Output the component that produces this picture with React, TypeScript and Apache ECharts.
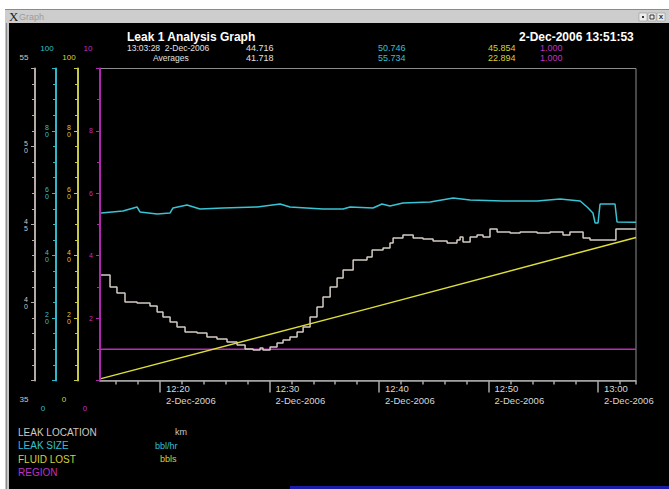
import React, { useEffect, useRef } from "react";
import * as echarts from "echarts";

// ---------- data ----------
const axisStart = "12:14:31";
const axisEnd = "13:03:28";

const leakLocationTimes = [
  "12:14:37", "12:15:26", "12:16:04", "12:16:48", "12:17:54", "12:19:05", "12:19:44", "12:20:16",
  "12:20:55", "12:21:33", "12:22:17", "12:23:23", "12:24:17", "12:25:12", "12:26:07", "12:27:02",
  "12:27:46", "12:28:30", "12:29:08", "12:29:24", "12:30:03", "12:30:41", "12:31:14", "12:31:52",
  "12:32:31", "12:33:04", "12:33:42", "12:34:20", "12:34:53", "12:35:32", "12:36:10", "12:36:43",
  "12:37:38", "12:38:54", "12:39:22", "12:40:22", "12:41:00", "12:41:17", "12:42:11", "12:43:07",
  "12:44:01", "12:44:56", "12:46:13", "12:47:07", "12:47:24", "12:47:40", "12:48:19", "12:48:57",
  "12:49:30", "12:50:08", "12:50:47", "12:51:58", "12:52:53", "12:54:26", "12:55:37", "12:56:48",
  "12:57:26", "12:58:22", "12:58:38", "12:59:16", "13:01:33", "13:01:38", "13:03:28",
];
const leakLocationValues = [
  41.76, 40.99, 40.61, 40.03, 39.97, 39.78, 39.39, 39.07,
  38.75, 38.43, 38.11, 38.04, 37.79, 37.66, 37.47, 37.28,
  37.02, 36.96, 37.08, 36.96, 37.15, 37.4, 37.6, 37.79,
  38.11, 38.43, 39.07, 39.71, 40.35, 40.99, 41.57, 42.08,
  42.72, 42.92, 43.37, 43.49, 43.81, 44.13, 44.32, 44.13,
  44.07, 43.94, 43.81, 44.01, 44.2, 43.88, 44.2, 44.33,
  44.2, 44.71, 44.52, 44.46, 44.52, 44.46, 44.52, 44.33,
  44.52, 44.52, 44.13, 44.01, 44.01, 44.716, 44.716,
];

const leakSizeTimes = [
  "12:14:37", "12:16:37", "12:17:54", "12:18:10", "12:19:44", "12:20:55", "12:21:11", "12:22:28",
  "12:23:39", "12:25:45", "12:28:52", "12:30:58", "12:31:52", "12:34:53", "12:36:43", "12:37:21",
  "12:39:27", "12:40:16", "12:41:00", "12:42:11", "12:44:40", "12:46:46", "12:48:19", "12:51:19",
  "12:54:26", "12:56:32", "12:58:22", "12:59:00", "12:59:32", "12:59:44", "13:00:00", "13:00:11",
  "13:01:33", "13:01:44", "13:03:28",
];
const leakSizeValues = [
  53.69, 54.33, 55.61, 54.01, 53.37, 53.69, 55.29, 56.25,
  54.97, 55.29, 55.61, 56.57, 55.61, 54.97, 54.97, 55.61,
  55.29, 56.57, 55.93, 56.89, 57.21, 58.49, 57.85, 57.53,
  57.53, 58.17, 57.53, 55.61, 53.69, 50.48, 50.48, 56.57,
  56.57, 50.8, 50.746,
];

const fluidLostTimes = ["12:14:37", "12:39:11", "13:03:28"];
const fluidLostValues = [0.6, 23.2, 45.854];

const regionTimes = ["12:14:31", "13:03:28"];
const regionValues = [1.0, 1.0];

const majorTickTimes = ["12:20:00", "12:30:00", "12:40:00", "12:50:00", "13:00:00"];
const minorTickTimes = [
  "12:16:00", "12:18:00", "12:22:00", "12:24:00", "12:26:00", "12:28:00", "12:32:00", "12:34:00",
  "12:36:00", "12:38:00", "12:42:00", "12:44:00", "12:46:00", "12:48:00", "12:52:00", "12:54:00",
  "12:56:00", "12:58:00", "13:02:00", "13:03:28",
];

const seriesNames = ["LEAK LOCATION", "LEAK SIZE", "FLUID LOST", "REGION"];
const seriesUnits = ["km", "bbl/hr", "bbls", ""];
const currentValues = ["44.716", "50.746", "45.854", "1.000"];
const averageValues = ["41.718", "55.734", "22.894", "1.000"];
const axisTopLabels = ["55", "100", "100", "10"];
const axisBottomLabels = ["35", "0", "0", "0"];

// ---------- styles ----------
const FONT = '"Liberation Sans", Arial, sans-serif';
const lineColors = ["#d4ccc4", "#38c4d4", "#dede3a", "#b430b4"];
const axisColors = ["#b4aca4", "#30b8c8", "#c8c848", "#b028b0"];
const textColors = ["#d0c8c0", "#34c0d0", "#d8d034", "#c030c0"];

// seconds since 12:00:00 on 2-Dec-2006
const toSec = (s: string) => {
  const [h, m, sec] = s.split(":").map(Number);
  return (h - 12) * 3600 + m * 60 + sec;
};
const pad2 = (n: number) => (n < 10 ? "0" + n : "" + n);
const fmtTime = (v: number) => {
  const total = Math.round(v);
  const h = 12 + Math.floor(total / 3600);
  const m = Math.floor((total % 3600) / 60);
  return pad2(h) + ":" + pad2(m);
};

function makeY(i: number, min: number, max: number, interval: number, offset: number, minorSplit: number, stacked: boolean) {
  const color = axisColors[i];
  return {
    type: "value",
    position: "left",
    offset,
    min,
    max,
    interval,
    axisLine: { show: true, lineStyle: { color, width: 2 } },
    axisTick: { show: true, length: 4, lineStyle: { color, width: 1 } },
    minorTick: { show: true, splitNumber: minorSplit, length: 3, lineStyle: { color, width: 1 } },
    splitLine: { show: false },
    minorSplitLine: { show: false },
    axisLabel: {
      show: true,
      showMinLabel: false,
      showMaxLabel: false,
      color: textColors[i],
      fontSize: 7,
      lineHeight: 7,
      margin: 7,
      fontFamily: FONT,
      formatter: (v: number) => (stacked ? String(v).split("").join("\n") : String(v)),
    },
  };
}

export default function App() {
  const ref = useRef<HTMLDivElement>(null);
  useEffect(() => {
    if (!ref.current) return;
    const chart = echarts.init(ref.current, undefined, { renderer: "svg" });

    const txt = (text: string, x: number, y: number, fill: string, font: string, align = "left") => ({
      type: "text",
      x,
      y,
      silent: true,
      style: { text, fill, font, textAlign: align, textVerticalAlign: "middle" },
    });

    const headerCols = [246, 378, 488, 540];
    const graphics: any[] = [
      { type: "rect", shape: { x: 0, y: 0, width: 669, height: 9 }, style: { fill: "#ffffff" } },
      { type: "rect", shape: { x: 0, y: 0, width: 5, height: 489 }, style: { fill: "#ffffff" } },
      { type: "rect", shape: { x: 5, y: 9, width: 4, height: 480 }, style: { fill: "#c4c4c4" } },
      { type: "rect", shape: { x: 6, y: 9, width: 1, height: 480 }, style: { fill: "#8c8c8c" } },
      { type: "rect", shape: { x: 5, y: 9, width: 664, height: 14 }, style: { fill: "#cdcdcd" } },
      { type: "rect", shape: { x: 5, y: 9, width: 664, height: 1 }, style: { fill: "#8a8a8a" } },
      txt("X", 9, 16.5, "#202020", "13px serif"),
      txt("Graph", 19, 17, "#9c9c9c", "9px " + FONT),
      { type: "rect", shape: { x: 639, y: 13, width: 8, height: 8 }, style: { fill: "#ececec", stroke: "#8a8a8a", lineWidth: 0.5 } },
      { type: "rect", shape: { x: 648, y: 13, width: 8, height: 8 }, style: { fill: "#ececec", stroke: "#8a8a8a", lineWidth: 0.5 } },
      { type: "rect", shape: { x: 657, y: 13, width: 8, height: 8 }, style: { fill: "#ececec", stroke: "#8a8a8a", lineWidth: 0.5 } },
      { type: "rect", shape: { x: 642, y: 16, width: 2, height: 2 }, style: { fill: "#333" } },
      { type: "rect", shape: { x: 650, y: 15, width: 4, height: 4 }, style: { fill: "none", stroke: "#333", lineWidth: 1 } },
      txt("x", 661, 16.5, "#333", "bold 8px " + FONT, "center"),
      { type: "rect", shape: { x: 290, y: 486, width: 379, height: 3 }, style: { fill: "#1c1ca8" } },
      txt("Leak 1 Analysis Graph", 127, 37, "#ffffff", "bold 12px " + FONT),
      txt("2-Dec-2006 13:51:53", 519, 37, "#ffffff", "bold 12px " + FONT),
      txt("13:03:28  2-Dec-2006", 127, 47.5, "#e0e0e0", "8.5px " + FONT),
      txt("Averages", 153, 57.5, "#e0e0e0", "8.5px " + FONT),
    ];
    currentValues.forEach((v, i) => {
      graphics.push(txt(v, headerCols[i], 47.5, i === 0 ? "#e0e0e0" : textColors[i], "9px " + FONT));
    });
    averageValues.forEach((v, i) => {
      graphics.push(txt(v, headerCols[i], 57.5, i === 0 ? "#e0e0e0" : textColors[i], "9px " + FONT));
    });
    const endX = [24, 47, 69, 88];
    const topY = [57, 48.5, 57, 48.5];
    const botX = [24, 43, 64, 85];
    const botY = [399, 408, 399, 408];
    axisTopLabels.forEach((t, i) => graphics.push(txt(t, endX[i], topY[i], textColors[i], "8px " + FONT, "center")));
    axisBottomLabels.forEach((t, i) => graphics.push(txt(t, botX[i], botY[i], textColors[i], "8px " + FONT, "center")));
    const legY = [432, 445.5, 459, 472.5];
    const unitX = [175, 155, 160, 0];
    seriesNames.forEach((n, i) => {
      graphics.push(txt(n, 18, legY[i], textColors[i], "10px " + FONT));
      if (seriesUnits[i]) graphics.push(txt(seriesUnits[i], unitX[i], legY[i], textColors[i], "9px " + FONT));
    });

    const mk = (times: string[], vals: number[]) => times.map((t, i) => [toSec(t), vals[i]]);
    const lineSeries = (name: string, i: number, data: any[], step: any) => ({
      name,
      type: "line",
      xAxisIndex: 0,
      yAxisIndex: i,
      data,
      step,
      showSymbol: false,
      symbol: "none",
      lineStyle: { color: lineColors[i], width: 1.5 },
      z: i === 3 ? 2 : 3,
    });

    const majorTs = majorTickTimes.map(toSec);
    const minorTs = minorTickTimes.map(toSec);

    chart.setOption({
      animation: false,
      backgroundColor: "#000000",
      grid: {
        left: 100,
        right: 33,
        top: 68.5,
        bottom: 108.5,
        show: true,
        borderColor: "#8c8c8c",
        borderWidth: 1,
        backgroundColor: "transparent",
        containLabel: false,
      },
      xAxis: [
        {
          type: "value",
          position: "bottom",
          min: toSec(axisStart),
          max: toSec(axisEnd),
          axisLine: { show: true, lineStyle: { color: "#a8a8a8", width: 1.5 } },
          axisTick: { show: true, length: 12, customValues: majorTs, lineStyle: { color: "#a8a8a8", width: 1.5 } },
          minorTick: { show: false },
          splitLine: { show: false },
          axisLabel: {
            show: true,
            customValues: majorTs,
            color: "#d8d8d8",
            fontSize: 9.5,
            lineHeight: 12,
            margin: 2,
            align: "left",
            padding: [0, 0, 0, 6],
            fontFamily: FONT,
            formatter: (v: number) => fmtTime(v) + "\n2-Dec-2006",
          },
        },
        {
          type: "value",
          position: "bottom",
          min: toSec(axisStart),
          max: toSec(axisEnd),
          axisLine: { show: false },
          axisTick: { show: true, length: 4, customValues: minorTs, lineStyle: { color: "#a8a8a8", width: 1.5 } },
          axisLabel: { show: false },
          splitLine: { show: false },
        },
      ],
      yAxis: [
        makeY(0, 35, 55, 5, 65, 5, true),
        makeY(1, 0, 100, 20, 44, 4, true),
        makeY(2, 0, 100, 20, 22, 4, true),
        makeY(3, 0, 10, 2, 0, 2, false),
      ],
      series: [
        lineSeries("LEAK LOCATION", 0, mk(leakLocationTimes, leakLocationValues), "end"),
        lineSeries("LEAK SIZE", 1, mk(leakSizeTimes, leakSizeValues), false),
        lineSeries("FLUID LOST", 2, mk(fluidLostTimes, fluidLostValues), false),
        lineSeries("REGION", 3, mk(regionTimes, regionValues), false),
      ],
      graphic: graphics,
    });
    return () => chart.dispose();
  }, []);
  return <div ref={ref} style={{ position: "fixed", left: 0, top: 0, width: 669, height: 489 }} />;
}
